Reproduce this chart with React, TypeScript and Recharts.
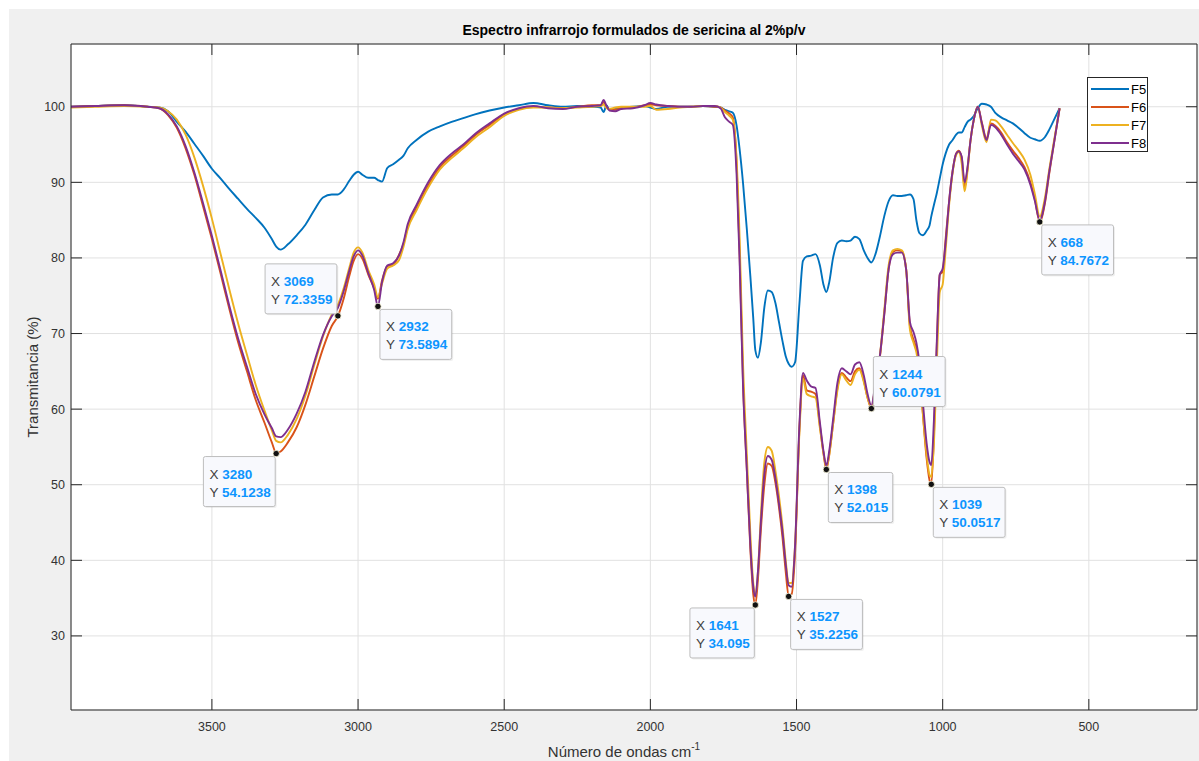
import React from 'react';
import {
  LineChart,
  Line,
  XAxis,
  YAxis,
  CartesianGrid,
  ReferenceLine,
  ReferenceDot,
  Legend,
} from 'recharts';

// wavenumbers (cm-1), shared by every spectrum
const WAVENUMBER = [
  3982, 3900, 3800, 3720, 3680, 3650, 3620, 3590, 3560, 3530,
  3500, 3470, 3440, 3410, 3380, 3350, 3320, 3295, 3280, 3265,
  3240, 3210, 3180, 3150, 3120, 3090, 3069, 3050, 3030, 3015,
  3000, 2985, 2965, 2945, 2932, 2918, 2900, 2880, 2860, 2845,
  2830, 2800, 2760, 2720, 2680, 2640, 2600, 2550, 2500, 2450,
  2400, 2350, 2300, 2250, 2200, 2170, 2160, 2150, 2140, 2120,
  2100, 2060, 2020, 2000, 1980, 1940, 1900, 1860, 1820, 1780,
  1760, 1745, 1730, 1718, 1705, 1695, 1683, 1670, 1658, 1648,
  1641, 1632, 1622, 1610, 1598, 1585, 1572, 1560, 1548, 1537,
  1527, 1517, 1505, 1490, 1478, 1465, 1450, 1435, 1420, 1408,
  1398, 1388, 1375, 1360, 1345, 1330, 1315, 1300, 1285, 1270,
  1257, 1244, 1230, 1215, 1200, 1185, 1170, 1155, 1140, 1125,
  1112, 1100, 1090, 1080, 1068, 1055, 1045, 1039, 1030, 1020,
  1010, 1000, 990, 978, 966, 954, 945, 935, 925, 915,
  905, 893, 880, 866, 850, 835, 820, 800, 780, 760,
  740, 720, 700, 685, 668, 650, 635, 620, 600,
];

const F5 = [
  100, 100.1, 100.2, 100, 99.9, 99.4, 98, 96.7, 95.1, 93.5,
  91.8, 90.5, 89.1, 87.8, 86.5, 85.3, 84, 82.5, 81.5, 81.1,
  81.8, 83, 84.4, 86.3, 88, 88.4, 88.4, 89, 90.2, 91,
  91.4, 91, 90.6, 90.6, 90.3, 90.1, 91.9, 92.4, 93, 93.5,
  94.5, 95.6, 96.7, 97.4, 98, 98.5, 99, 99.5, 99.9, 100.2,
  100.5, 100.2, 100, 100.1, 100, 99.9, 99.3, 100.2, 99.6, 99.7,
  99.8, 100, 100.1, 99.9, 99.7, 100, 100, 100, 100.1, 100,
  99.9, 99.6, 99.4, 99.2, 97.5, 94.5, 89.9, 83.8, 77.6, 72,
  67.8, 66.8, 68.8, 73.5, 75.7, 75.5, 74, 71.5, 69, 67,
  66, 65.6, 66.2, 74, 79.6, 80.2, 80.3, 80.5, 79, 76.5,
  75.5, 76.8, 80, 82, 82.3, 82.2, 82.3, 82.8, 82.5, 81,
  80, 79.4, 80.5, 82.8, 85.5, 87.5, 88.3, 88.2, 88.2, 88.3,
  88.4, 87.8, 85, 83.3, 83, 83.6, 84.3, 85.5, 87, 88.6,
  90.5, 92.4, 93.8, 95, 95.6, 96.3, 96.6, 96.6, 97.3, 98,
  98.3, 98.8, 99.8, 100.4, 100.3, 100, 99.2, 98.6, 98.2, 97.8,
  97.2, 96.5, 95.9, 95.7, 95.5, 96, 97, 98.2, 99.8,
];

const F6 = [
  100, 100.1, 100.2, 100, 99.8, 98.9, 97.2, 94.5, 91, 86.8,
  82.5, 77.9, 73.2, 68.8, 65, 61.2, 58.2, 55.6, 54.2, 54.4,
  55.6, 57.6, 60.6, 64.3, 68, 71, 72.3, 74.5, 77.6, 79.6,
  80.5, 79.9, 77.8, 76, 74.6, 77, 78.9, 79.1, 80.4, 81.8,
  84.1, 86.6, 89.6, 92, 93.5, 94.8, 96.2, 97.6, 99, 99.7,
  100, 99.9, 99.8, 100, 100.2, 100.2, 100.6, 100, 99.7, 99.6,
  99.8, 99.9, 100.2, 100.3, 100.2, 100.1, 100, 100, 100.1, 100,
  99.9, 99.5, 99.1, 98.6, 92.5, 81, 63.5, 52, 41.5, 35.5,
  34.1, 37.5, 44, 50, 52.8, 52.5, 50.2, 47, 43, 38.5,
  35.3, 35.5, 41, 57.5, 64.5, 62.5, 62.3, 62, 57.8, 54.2,
  52, 54, 58, 62.8, 64.8, 64.2, 63.7, 65, 65.4, 63.8,
  61.5, 60.1, 63.2, 66.8, 72.5, 78.5, 80.8, 81, 80.9, 78.5,
  71, 69.2, 68, 65.5, 59.5, 53.5, 50.6, 50.05, 56.5, 68.5,
  77.8, 78.2, 82.5, 87.5, 91.5, 93.8, 94.2, 93.3, 89.3, 91.8,
  95.5, 98.4, 100, 97.9, 95.8, 97.8, 97.5, 96.6, 95.3, 94.2,
  93.2, 92, 90, 87.8, 84.8, 87.3, 91.3, 95, 99.8,
];

const F7 = [
  99.9, 100, 100.1, 100, 99.9, 99.4, 98.3, 96.3, 93.3, 89.5,
  85.2, 80.5, 75.8, 71.3, 67.2, 63.2, 59.8, 57.2, 55.8, 55.6,
  56.6, 58.7, 61.8, 65.8, 69.6, 72.5, 73.8, 75.9, 78.7, 80.7,
  81.4, 80.7, 78.4, 76.5, 74.8, 76.6, 78.6, 79, 79.7, 81.4,
  83.8, 86.3, 89.3, 91.7, 93.2, 94.5, 95.9, 97.3, 98.8, 99.6,
  99.9, 99.9, 99.8, 99.9, 100, 100.1, 100.3, 99.8, 99.7, 99.9,
  100, 100, 100, 100.1, 99.6, 99.7, 99.9, 100, 100.1, 100.1,
  99.9, 99.3, 98.8, 98.3, 93, 83, 66, 54, 43.5, 37,
  35.3, 38.5, 46, 53, 55, 54.5, 51.8, 48.5, 44.5, 40,
  37, 37, 42, 57, 64, 62, 61.7, 61.5, 57.5, 54.2,
  52.3, 54, 58, 62.5, 64.6, 63.8, 63.2, 64.6, 65.2, 63.6,
  61.5, 60.3, 63.2, 67, 73, 79, 81, 81.2, 81, 78.5,
  70.5, 68.8, 67.5, 65, 59.5, 54, 51.3, 51, 55.5, 66,
  75.5, 76.5, 81, 87, 91.3, 93.6, 94, 92.5, 88.8, 91.5,
  95.5, 98.4, 100, 97.5, 95.3, 98.3, 98.2, 97.4, 96.3, 95.2,
  94.2, 93, 91, 88.5, 85.5, 88, 91.8, 95.3, 99.8,
];

const F8 = [
  100, 100.1, 100.2, 100, 99.8, 99, 97.4, 94.8, 91.3, 87.2,
  82.9, 78.3, 73.6, 69.3, 65.6, 62, 59.3, 57.5, 56.4, 56.3,
  57.3, 59.4, 62.3, 66.2, 69.8, 72.3, 73.4, 75.5, 78.3, 80.2,
  81, 80.3, 78, 75.8, 73.6, 76.8, 79, 79.3, 80.3, 82,
  84.5, 87, 90, 92.3, 93.8, 95, 96.4, 97.8, 99.1, 99.8,
  100.1, 99.8, 99.7, 100, 100.1, 100.2, 100.9, 100.1, 99.5, 99.4,
  99.7, 99.8, 100.2, 100.5, 100.3, 100.1, 100, 100, 100.1, 100.1,
  99.8, 98.6, 98, 97.6, 91, 80, 63.1, 52, 42, 36.5,
  35.2, 38.5, 45, 51.5, 53.8, 53.3, 50.8, 47.5, 43.8, 39.5,
  36.7, 36.5, 42, 58, 64.8, 63.8, 63, 62.8, 58.2, 54.5,
  52.5, 54.5, 58.6, 63.5, 65.4, 65, 64.6, 65.9, 66.2, 64.5,
  62, 60.5, 63.5, 67, 72.5, 78.5, 80.5, 80.7, 80.7, 78.5,
  71.5, 70.2, 68.8, 66.3, 61, 55.5, 53, 52.6, 58.5, 69,
  77.8, 78.6, 82, 87.5, 91.5, 93.8, 94.1, 93.4, 90, 92,
  95.5, 98.4, 100, 97.8, 95.6, 97.6, 97.3, 96.3, 95, 93.8,
  92.8, 91.7, 89.7, 87.6, 85, 87.5, 91.5, 95, 99.8,
];

const SERIES_NAMES = ['F5', 'F6', 'F7', 'F8'];
const SERIES_VALUES = [F5, F6, F7, F8];
const X_TICKS = [3500, 3000, 2500, 2000, 1500, 1000, 500];
const Y_TICKS = [30, 40, 50, 60, 70, 80, 90, 100];

// data tips
const TIP_X = [3280, 3069, 2932, 1641, 1527, 1398, 1244, 1039, 668];
const TIP_Y = [54.1238, 72.3359, 73.5894, 34.095, 35.2256, 52.015, 60.0791, 50.0517, 84.7672];
const TIP_PLACE = ['bl', 'tl', 'br', 'bl', 'br', 'br', 'tr', 'br', 'br'];

const X_MIN = 130;
const X_MAX = 3982;
const Y_MIN = 20.2;
const Y_MAX = 108.3;

const COLORS = ['#0072BD', '#D95319', '#EDB120', '#7E2F8E'];
const AXIS = '#262626';
const FONT = '"Liberation Sans", Arial, Helvetica, sans-serif';

const W = 1190;
const H = 752;
const MARGIN = { top: 35, right: 2, bottom: 21, left: 12 };
const PLOT_W = W - MARGIN.left - MARGIN.right - 50;
const PLOT_H = H - MARGIN.top - MARGIN.bottom - 30;
// MATLAB style inward ticks, ~11px long
const TICK_X = ((X_MAX - X_MIN) * 11) / PLOT_W;
const TICK_Y = ((Y_MAX - Y_MIN) * 11) / PLOT_H;

const data = WAVENUMBER.map((w, i) => {
  const row: Record<string, number> = { w };
  SERIES_NAMES.forEach((name, k) => {
    row[name] = SERIES_VALUES[k][i];
  });
  return row;
});

function DataTip(props: any) {
  const { cx, cy, xs, ys, place } = props;
  if (cx == null || cy == null) return null;
  const len = Math.max(xs.length, ys.length);
  const w = 20 + len * 7.4;
  const h = 50;
  const bx = place.includes('l') ? cx - w - 1 : cx + 2;
  const by = place.startsWith('t') ? cy - h - 2 : cy + 3;
  return (
    <g>
      <rect x={bx + 1.5} y={by + 1.5} width={w} height={h} rx={2} fill="#000" fillOpacity={0.06} />
      <rect x={bx} y={by} width={w} height={h} rx={2} fill="#f8f9fd" stroke="#bdbdbd" strokeWidth={1} />
      <text x={bx + 6} y={by + 22} fontSize={13.5} fontFamily={FONT}>
        <tspan fill="#404040">X </tspan>
        <tspan fill="#0d95ff" fontWeight="bold">{xs}</tspan>
      </text>
      <text x={bx + 6} y={by + 40} fontSize={13.5} fontFamily={FONT}>
        <tspan fill="#404040">Y </tspan>
        <tspan fill="#0d95ff" fontWeight="bold">{ys}</tspan>
      </text>
      <circle cx={cx} cy={cy} r={3.2} fill="#111" stroke="#fffbe0" strokeWidth={0.8} />
    </g>
  );
}

function LegendBox() {
  return (
    <div
      style={{
        width: 61,
        height: 75,
        background: '#fff',
        border: `1px solid ${AXIS}`,
        boxSizing: 'border-box',
      }}
    >
      <svg width={59} height={73} style={{ display: 'block' }}>
        {SERIES_NAMES.map((name, i) => (
          <g key={name}>
            <line x1={3} x2={41} y1={11 + i * 18} y2={11 + i * 18} stroke={COLORS[i]} strokeWidth={1.8} />
            <text x={43} y={15.5 + i * 18} fontSize={13} fontFamily={FONT} fill="#000">
              {name}
            </text>
          </g>
        ))}
      </svg>
    </div>
  );
}

export default function App() {
  return (
    <div style={{ position: 'absolute', left: 0, top: 0, width: 1199, height: 761, background: '#fff', fontFamily: FONT }}>
      <div style={{ position: 'absolute', left: 9, top: 9, width: W, height: H, background: '#f0f0f0' }}>
        <LineChart width={W} height={H} data={data} margin={MARGIN}>
          <CartesianGrid stroke="#e1e1e1" fill="#ffffff" fillOpacity={1} />
          <XAxis
            dataKey="w"
            type="number"
            domain={[X_MIN, X_MAX]}
            reversed
            allowDataOverflow
            ticks={X_TICKS}
            tickLine={false}
            tickSize={0}
            tickMargin={12}
            height={30}
            axisLine={{ stroke: AXIS }}
            tick={{ fill: '#333', fontSize: 12.5, fontFamily: FONT }}
            label={({ viewBox }: any) => (
              <text
                x={viewBox.x + viewBox.width / 2 - 10}
                y={viewBox.y + 47}
                textAnchor="middle"
                fontSize={15}
                fontFamily={FONT}
                fill="#333"
              >
                Número de ondas cm
                <tspan fontSize={10} dy={-7}>-1</tspan>
              </text>
            )}
          />
          <YAxis
            type="number"
            domain={[Y_MIN, Y_MAX]}
            allowDataOverflow
            ticks={Y_TICKS}
            tickLine={false}
            tickSize={0}
            tickMargin={6}
            width={50}
            axisLine={{ stroke: AXIS }}
            tick={{ fill: '#333', fontSize: 12.5, fontFamily: FONT }}
            label={({ viewBox }: any) => {
              const x = viewBox.x + 17;
              const y = viewBox.y + viewBox.height / 2;
              return (
                <text
                  x={x}
                  y={y}
                  transform={`rotate(-90, ${x}, ${y})`}
                  textAnchor="middle"
                  fontSize={15}
                  fontFamily={FONT}
                  fill="#333"
                >
                  Transmitancia (%)
                </text>
              );
            }}
          />
          {/* box: top and right edges */}
          <ReferenceLine y={Y_MAX} stroke={AXIS} ifOverflow="visible" />
          <ReferenceLine x={X_MIN} stroke={AXIS} ifOverflow="visible" />
          {X_TICKS.map((t) => (
            <ReferenceLine key={`bx${t}`} segment={[{ x: t, y: Y_MIN }, { x: t, y: Y_MIN + TICK_Y }]} stroke={AXIS} />
          ))}
          {X_TICKS.map((t) => (
            <ReferenceLine key={`tx${t}`} segment={[{ x: t, y: Y_MAX }, { x: t, y: Y_MAX - TICK_Y }]} stroke={AXIS} />
          ))}
          {Y_TICKS.map((t) => (
            <ReferenceLine key={`ly${t}`} segment={[{ x: X_MAX, y: t }, { x: X_MAX - TICK_X, y: t }]} stroke={AXIS} />
          ))}
          {Y_TICKS.map((t) => (
            <ReferenceLine key={`ry${t}`} segment={[{ x: X_MIN, y: t }, { x: X_MIN + TICK_X, y: t }]} stroke={AXIS} />
          ))}
          {SERIES_NAMES.map((name, i) => (
            <Line
              key={name}
              dataKey={name}
              name={name}
              type="monotone"
              stroke={COLORS[i]}
              strokeWidth={1.9}
              dot={false}
              activeDot={false}
              isAnimationActive={false}
            />
          ))}
          {TIP_X.map((x, i) => (
            <ReferenceDot
              key={`tip${x}`}
              x={x}
              y={TIP_Y[i]}
              r={3}
              ifOverflow="visible"
              shape={(p: any) => (
                <DataTip cx={p.cx} cy={p.cy} xs={String(x)} ys={String(TIP_Y[i])} place={TIP_PLACE[i]} />
              )}
            />
          ))}
          <Legend
            layout="vertical"
            align="center"
            verticalAlign="middle"
            content={() => <LegendBox />}
            wrapperStyle={{ position: 'absolute', left: 1078, top: 68, width: 61, height: 75 }}
          />
        </LineChart>
      </div>
      <div
        style={{
          position: 'absolute',
          left: 334,
          top: 21,
          width: 600,
          textAlign: 'center',
          fontSize: 14,
          fontWeight: 'bold',
          color: '#000',
          lineHeight: '18px',
        }}
      >
        Espectro infrarrojo formulados de sericina al 2%p/v
      </div>
    </div>
  );
}
